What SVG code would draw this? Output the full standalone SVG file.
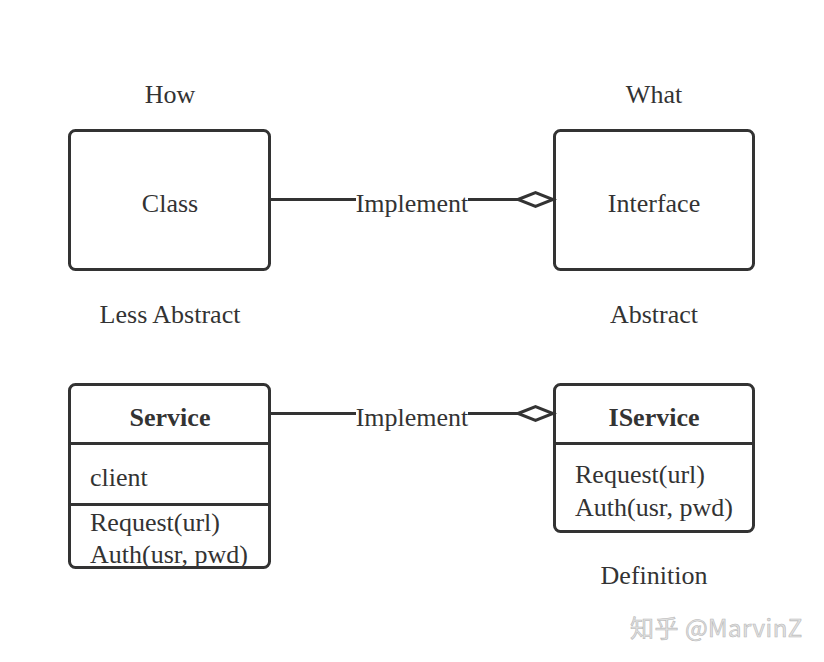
<svg xmlns="http://www.w3.org/2000/svg" width="824" height="662" viewBox="0 0 824 662">
<style>
.box{fill:#fff;stroke:#333;stroke-width:3}
.div{stroke:#333;stroke-width:3}
.conn{stroke:#333;stroke-width:3;fill:none}
.dia{fill:#fff;stroke:#333;stroke-width:3;stroke-linejoin:miter}
text{font-family:"Liberation Serif","Times New Roman",serif;font-size:26px;fill:#333}
.c{text-anchor:middle}
.b{font-weight:bold}
.wm{font-family:"Noto Sans CJK SC","Liberation Sans",sans-serif;font-size:24px;letter-spacing:0.5px;fill:#e2e2e2;stroke:#b8b8b8;stroke-width:0.6}
</style>
<rect width="824" height="662" fill="#fff"/>
<g id="labels">
<text class="c" x="170" y="102.5">How</text>
<text class="c" x="654" y="102.5">What</text>
<text class="c" x="170" y="322.5">Less Abstract</text>
<text class="c" x="654" y="322.5">Abstract</text>
<text class="c" x="654" y="584">Definition</text>
</g>
<g id="class">
<rect class="box" x="69.5" y="130.5" width="200" height="139" rx="6"/>
<text class="c" x="170" y="212">Class</text>
</g>
<g id="interface">
<rect class="box" x="554.5" y="130.5" width="199" height="139" rx="6"/>
<text class="c" x="654" y="212">Interface</text>
</g>
<g id="service">
<rect class="box" x="69.5" y="384.5" width="200" height="183" rx="6"/>
<line class="div" x1="69.5" y1="443.5" x2="269.5" y2="443.5"/>
<line class="div" x1="69.5" y1="504.5" x2="269.5" y2="504.5"/>
<text class="c b" x="170" y="426">Service</text>
<text x="90" y="486">client</text>
<text x="90" y="531">Request(url)</text>
<text x="90" y="563">Auth(usr, pwd)</text>
</g>
<g id="iservice">
<rect class="box" x="554.5" y="384.5" width="199" height="147" rx="6"/>
<line class="div" x1="554.5" y1="443.5" x2="753.5" y2="443.5"/>
<text class="c b" x="654" y="426">IService</text>
<text x="575" y="483">Request(url)</text>
<text x="575" y="516">Auth(usr, pwd)</text>
</g>
<g id="connectors">
<line class="conn" x1="271" y1="199.5" x2="356" y2="199.5"/>
<line class="conn" x1="468" y1="199.5" x2="518" y2="199.5"/>
<polygon class="dia" points="518,199.5 535.5,192.5 553,199.5 535.5,206.5"/>
<text class="c" x="412" y="212">Implement</text>
<line class="conn" x1="271" y1="413.5" x2="356" y2="413.5"/>
<line class="conn" x1="468" y1="413.5" x2="518" y2="413.5"/>
<polygon class="dia" points="518,413.5 535.5,406.5 553,413.5 535.5,420.5"/>
<text class="c" x="412" y="426">Implement</text>
</g>
<g id="watermark">
<text class="wm" x="630" y="637">知乎 @MarvinZ</text>
</g>
</svg>
